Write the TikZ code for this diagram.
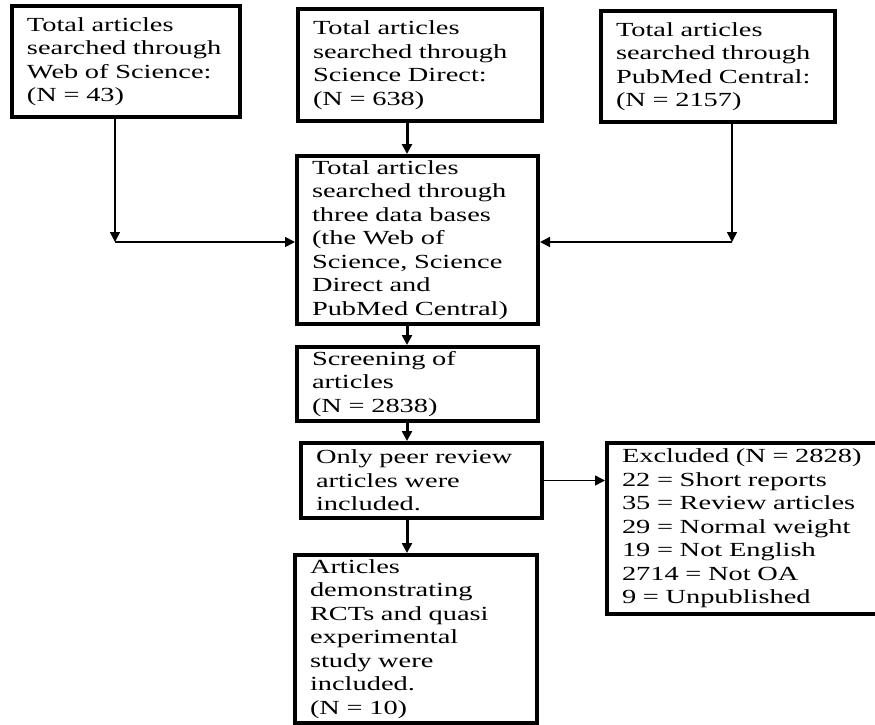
\documentclass[tikz,border=0pt]{standalone}
\usepackage{fontspec}
\setmainfont{Liberation Serif}[FakeStretch=1.42]
\usetikzlibrary{arrows.meta}

\begin{document}
\begin{tikzpicture}[x=1pt, y=-1pt, line width=1.6pt,
    flowbox/.style={draw, line width=4pt, align=left, inner xsep=15pt, inner ysep=0pt,
      font=\fontsize{20}{23.5}\selectfont},
    arr/.style={-{Triangle[length=10pt,width=10pt]}},
    thickarr/.style={arr, line width=3pt}]
        \useasboundingbox (0,0) rectangle (875,725);

        % the three data bases
        \node[flowbox, text width=198pt, minimum height=111pt] (wos) at (126,61.5)
          {Total articles\\searched through\\Web of Science:\\(N = 43)};
        \node[flowbox, text width=214pt, minimum height=112pt] (sd) at (420,65)
          {Total articles\\searched through\\Science Direct:\\(N = 638)};
        \node[flowbox, text width=204pt, minimum height=111pt] (pmc) at (718,66.5)
          {Total articles\\searched through\\PubMed Central:\\(N = 2157)};

        % main column
        \node[flowbox, text width=211pt, minimum height=168pt] (all) at (417.5,240)
          {Total articles\\searched through\\three data bases\\(the Web of\\Science, Science\\Direct and\\PubMed Central)};
        \node[flowbox, text width=211pt, minimum height=74pt] (screen) at (417.5,384)
          {Screening of\\articles\\(N = 2838)};
        \node[flowbox, text width=211pt, minimum height=75pt] (peer) at (421.5,480.5)
          {Only peer review\\articles were\\included.};
        \node[flowbox, text width=212pt, minimum height=168pt] (incl) at (416,639)
          {Articles\\demonstrating\\RCTs and quasi\\experimental\\study were\\included.\\(N = 10)};

        % excluded side box
        \node[flowbox, text width=250pt, minimum height=171pt] (excl) at (747,528.5)
          {Excluded (N = 2828)\\22 = Short reports\\35 = Review articles\\29 = Normal weight\\19 = Not English\\2714 = Not OA\\9 = Unpublished};

        \coordinate (spine) at (407,0);
        \coordinate (wosturn) at (115,242);
        \coordinate (pmcturn) at (732,242);

        \draw[arr] (wos.south -| wosturn) -- (wosturn);
        \draw[arr] (wosturn) -- (all.west |- wosturn);
        \draw[arr] (pmc.south -| pmcturn) -- (pmcturn);
        \draw[arr] (pmcturn) -- (all.east |- pmcturn);

        \draw[thickarr] (sd.south -| spine) -- (all.north -| spine);
        \draw[thickarr] (all.south -| spine) -- (screen.north -| spine);
        \draw[thickarr] (screen.south -| spine) -- (peer.north -| spine);
        \draw[thickarr] (peer.south -| spine) -- (incl.north -| spine);
        \draw[arr, line width=1.4pt] (peer.east) -- (excl.west |- peer.east);
      \end{tikzpicture}
\end{document}
